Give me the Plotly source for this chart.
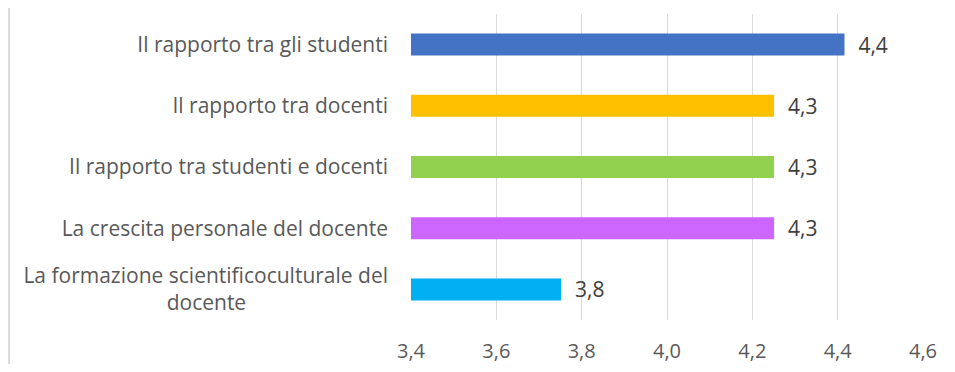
import plotly.graph_objects as go

categories = [
    "La formazione scientificoculturale del<br>docente",
    "La crescita personale del docente",
    "Il rapporto tra studenti e docenti",
    "Il rapporto tra docenti",
    "Il rapporto tra gli studenti",
]
values = [3.752, 4.251, 4.251, 4.251, 4.416]
colors = ["#00B0F0", "#CC66FF", "#92D050", "#FFC000", "#4472C4"]
x_ticks = [3.4, 3.6, 3.8, 4.0, 4.2, 4.4, 4.6]

# centre the second line of the wrapped label under the first one
pad = "\u00a0" * 26
tick_text = [c.replace("<br>docente", "<br>docente" + pad) for c in categories]

fig = go.Figure()
fig.add_trace(
    go.Bar(
        x=values,
        y=categories,
        orientation="h",
        marker={"color": colors, "line": {"width": 0}},
        text=["\u00a0\u00a0" + f"{v:.1f}".replace(".", ",") for v in values],
        textposition="outside",
        constraintext="none",
        textfont={"size": 21, "color": "#404040"},
        cliponaxis=False,
        hoverinfo="skip",
    )
)

# page body has an 8px margin, so the figure is sized to fit inside it
fig.update_layout(
    width=947,
    height=356,
    margin={"l": 403, "r": 32, "t": 6, "b": 44},
    paper_bgcolor="white",
    plot_bgcolor="white",
    font={"family": "Open Sans, sans-serif", "size": 21, "color": "#595959"},
    bargap=0.64,
    showlegend=False,
    shapes=[
        {
            "type": "line",
            "xref": "paper",
            "yref": "paper",
            "x0": -0.785,
            "x1": -0.785,
            "y0": -0.2,
            "y1": 1.1,
            "line": {"color": "#D9D9D9", "width": 2},
        }
    ],
)
fig.update_xaxes(
    range=[3.4, 4.6],
    tickvals=x_ticks,
    ticktext=[f"{t:.1f}".replace(".", ",") for t in x_ticks],
    showgrid=True,
    gridcolor="#D9D9D9",
    gridwidth=1,
    zeroline=False,
    showline=False,
    ticks="",
    ticklabelstandoff=17,
    automargin=False,
    tickfont={"size": 20, "color": "#595959"},
)
fig.update_yaxes(
    tickvals=categories,
    ticktext=tick_text,
    showgrid=False,
    showline=False,
    zeroline=False,
    ticks="",
    ticklabelstandoff=22,
    automargin=False,
    tickfont={"size": 21, "color": "#595959"},
)
fig.write_html("out.html")
